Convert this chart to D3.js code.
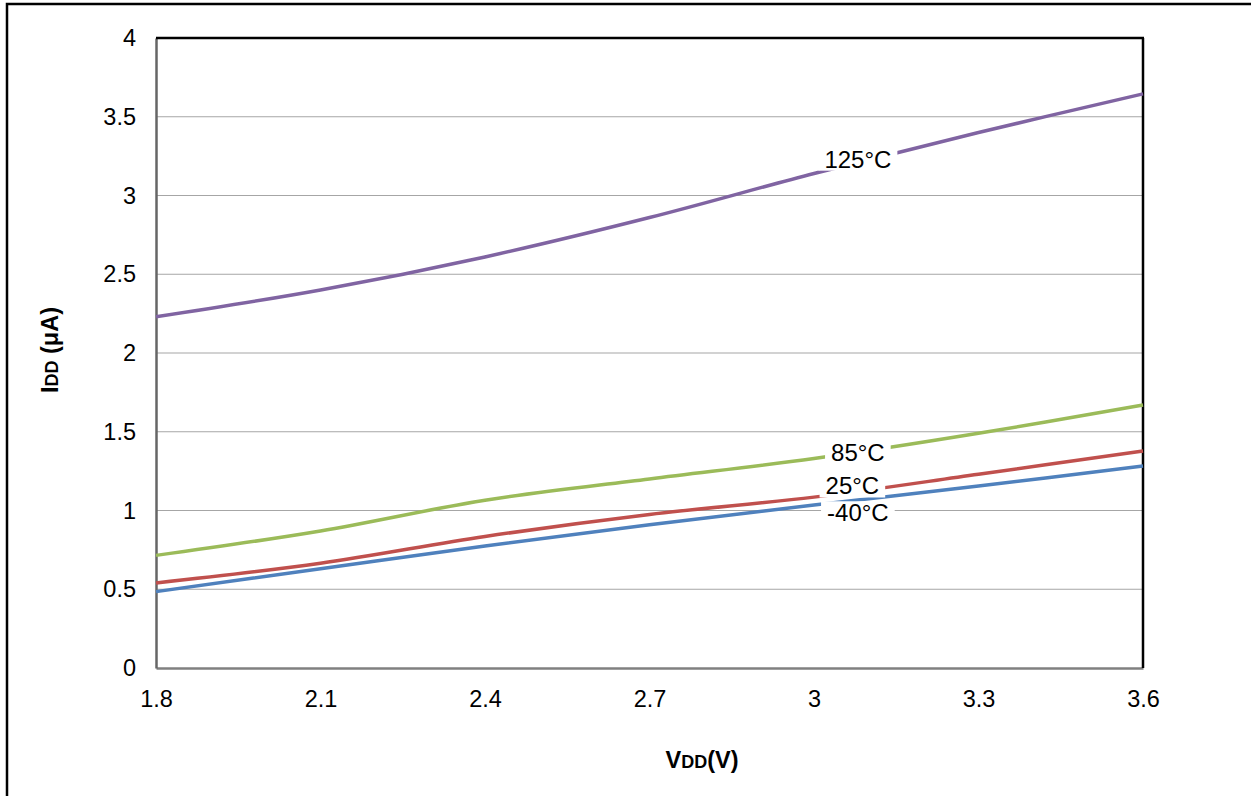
<!DOCTYPE html>
<html><head><meta charset="utf-8">
<script src="https://cdn.jsdelivr.net/npm/d3@7"></script>
<style>
html,body{margin:0;padding:0;background:#fff;}
svg{display:block;font-family:"Liberation Sans",Arial,sans-serif;}
</style></head>
<body>
<svg id="c" width="1251" height="796"></svg>
<script>
const voltages = [1.8, 2.1, 2.4, 2.7, 3.0, 3.3, 3.6];
const idd125 = [2.23, 2.40, 2.61, 2.86, 3.14, 3.40, 3.645];
const idd85  = [0.715, 0.87, 1.065, 1.20, 1.33, 1.49, 1.67];
const idd25  = [0.54, 0.665, 0.835, 0.975, 1.085, 1.23, 1.378];
const iddM40 = [0.485, 0.63, 0.775, 0.91, 1.035, 1.155, 1.283];
const seriesNames = ["125°C", "85°C", "25°C", "-40°C"];
const seriesColors = ["#8064A2", "#9BBB59", "#C0504D", "#4F81BD"];
const labelV = [3.08, 3.08, 3.07, 3.08];
const labelI = [3.23, 1.365, 1.155, 0.985];
const xTicks = [1.8, 2.1, 2.4, 2.7, 3.0, 3.3, 3.6];
const xTickLabels = ["1.8", "2.1", "2.4", "2.7", "3", "3.3", "3.6"];
const yTicks = [0, 0.5, 1, 1.5, 2, 2.5, 3, 3.5, 4];
const yTickLabels = ["0", "0.5", "1", "1.5", "2", "2.5", "3", "3.5", "4"];

const svg = d3.select("#c");
const L = 156, R = 1143, T = 38, B = 668;
const x = d3.scaleLinear().domain([1.8, 3.6]).range([L, R]);
const y = d3.scaleLinear().domain([0, 4]).range([B, T]);

// outer border
svg.append("rect").attr("x", 7).attr("y", 4).attr("width", 1260).attr("height", 820)
  .attr("fill", "none").attr("stroke", "#000").attr("stroke-width", 2.5);

// gridlines
svg.append("g").selectAll("line").data(yTicks.filter(d => d > 0 && d < 4)).join("line")
  .attr("x1", L).attr("x2", R).attr("y1", d => y(d)).attr("y2", d => y(d))
  .attr("stroke", "#a6a6a6").attr("stroke-width", 1.2);

// axes via d3
const xAxis = d3.axisBottom(x).tickValues(xTicks).tickSize(0).tickPadding(22)
  .tickFormat((d, i) => xTickLabels[i]);
const gx = svg.append("g").attr("transform", `translate(0,${B})`).call(xAxis);
gx.select(".domain").attr("stroke", "#808080").attr("stroke-width", 2.5);
gx.selectAll("text").attr("font-size", 23.5).attr("fill", "#000")
  .attr("font-family", "Liberation Sans, Arial, sans-serif");

const yAxis = d3.axisLeft(y).tickValues(yTicks).tickSize(0).tickPadding(20)
  .tickFormat((d, i) => yTickLabels[i]);
const gy = svg.append("g").attr("transform", `translate(${L},0)`).call(yAxis);
gy.select(".domain").attr("stroke", "#666").attr("stroke-width", 2.5);
gy.selectAll("text").attr("font-size", 23.5).attr("fill", "#000")
  .attr("font-family", "Liberation Sans, Arial, sans-serif");

// top and right frame
svg.append("line").attr("x1", L).attr("x2", R + 1).attr("y1", T).attr("y2", T)
  .attr("stroke", "#000").attr("stroke-width", 2.5);
svg.append("line").attr("x1", R).attr("x2", R).attr("y1", T).attr("y2", B)
  .attr("stroke", "#000").attr("stroke-width", 2.5);

// lines
const allSeries = [idd125, idd85, idd25, iddM40];
const line = d3.line().x((d, i) => x(voltages[i])).y(d => y(d)).curve(d3.curveCatmullRom);
svg.append("g").selectAll("path").data(allSeries).join("path")
  .attr("d", d => line(d)).attr("fill", "none")
  .attr("stroke", (d, i) => seriesColors[i]).attr("stroke-width", 3.5)
  .attr("stroke-linecap", "butt");

// labels with white boxes
const lg = svg.append("g");
seriesNames.forEach((name, i) => {
  const g = lg.append("g").attr("transform", `translate(${x(labelV[i])},${y(labelI[i])})`);
  const t = g.append("text").attr("text-anchor", "middle").attr("dy", "0.35em")
    .attr("font-size", 24).attr("fill", "#000").text(name);
  const bb = t.node().getBBox();
  g.insert("rect", "text").attr("x", bb.x - 6).attr("y", bb.y + 2)
    .attr("width", bb.width + 12).attr("height", bb.height - 4).attr("fill", "#fff");
});

// axis titles
const yt = svg.append("text").attr("transform", `translate(58,${(T + B) / 2 - 3}) rotate(-90)`)
  .attr("text-anchor", "middle").attr("font-weight", "bold").attr("font-size", 23.5).attr("fill", "#000");
yt.append("tspan").text("I");
yt.append("tspan").attr("font-size", 18).text("DD");
yt.append("tspan").text(" (μA)");

const xt = svg.append("text").attr("x", 702).attr("y", 768)
  .attr("text-anchor", "middle").attr("font-weight", "bold").attr("font-size", 23.5).attr("fill", "#000");
xt.append("tspan").text("V");
xt.append("tspan").attr("font-size", 18).text("DD");
xt.append("tspan").text("(V)");
</script>
</body></html>
